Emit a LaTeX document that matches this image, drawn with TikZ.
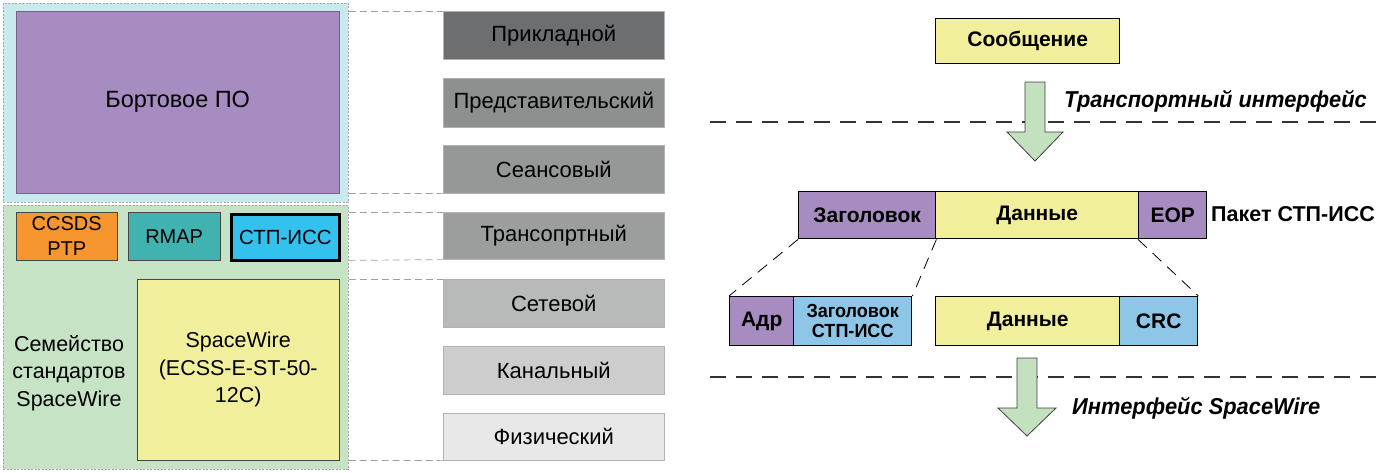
\documentclass[tikz,border=0pt]{standalone}
\usepackage{fontspec}
\setmainfont{Liberation Sans}
\newfontfamily\nrw[FakeStretch=0.95]{Liberation Sans}
\pgfdeclarelayer{bg}
\pgfsetlayers{bg,main}
\definecolor{cyanbg}{HTML}{C8EAEE}
\definecolor{greenbg}{HTML}{C6E3C6}
\definecolor{purp}{HTML}{A78CC1}
\definecolor{orng}{HTML}{F7962F}
\definecolor{teal2}{HTML}{40B2B0}
\definecolor{blu}{HTML}{33C1EE}
\definecolor{yel}{HTML}{F2EF9C}
\definecolor{lblu}{HTML}{8EC6E8}
\definecolor{garrow}{HTML}{C3E0BF}
\definecolor{g1}{HTML}{6D6E70}
\definecolor{g2}{HTML}{8E908F}
\definecolor{g3}{HTML}{969897}
\definecolor{g4}{HTML}{9C9E9D}
\definecolor{g5}{HTML}{B8BAB9}
\definecolor{g6}{HTML}{CCCDCC}
\definecolor{g7}{HTML}{E8E8E8}
\tikzset{
  rb/.style={rectangle, anchor=north west, inner sep=0pt, align=center, font=\fontsize{21.5}{27.5}\selectfont},
  panel/.style={rb, draw=gray!70, dash pattern=on 2pt off 1.5pt, line width=0.6pt},
  lbox/.style={rb, draw=gray!55!black, line width=0.4pt},
  layer/.style={rb, draw=gray!60, line width=0.6pt, minimum width=221pt, font=\fontsize{22}{26}\selectfont},
  pbox/.style={rb, draw=black, line width=1.4pt, font=\bfseries\fontsize{21}{24}\selectfont},
  guide/.style={draw=gray!75, dash pattern=on 7pt off 4pt, line width=0.7pt},
  bigdash/.style={draw=gray!40!black, dash pattern=on 16pt off 10pt, line width=1.6pt},
  vdash/.style={draw=black, dash pattern=on 8pt off 5pt, line width=0.7pt},
  ddash/.style={draw=black, dash pattern=on 12pt off 8pt, line width=0.8pt},
  garr/.style={fill=garrow, draw=gray!50!black, line width=0.8pt},
  ilabel/.style={anchor=west, inner sep=0pt, font=\nrw\bfseries\itshape\fontsize{23}{26}\selectfont}
}
\begin{document}
\begin{tikzpicture}[x=1pt,y=-1pt]
\useasboundingbox[fill=white] (0,0) rectangle (1390,472);
% left panel
\node[panel, fill=cyanbg, minimum width=345pt, minimum height=199pt] (cyanp) at (3,3) {};
\node[panel, fill=greenbg, minimum width=345pt, minimum height=264pt] (greenp) at (3,205) {};
\node[lbox, fill=purp, draw=purp!70!black, minimum width=323pt, minimum height=182pt, font=\fontsize{23.5}{28}\selectfont] (bort) at (16,11) {Бортовое ПО};
\node[lbox, fill=orng, minimum width=101pt, minimum height=48pt, font=\fontsize{20}{25}\selectfont] (ccsds) at (16,212) {CCSDS\\PTP};
\node[lbox, fill=teal2, minimum width=92pt, minimum height=48pt, font=\fontsize{20}{25}\selectfont] (rmap) at (128,212) {RMAP};
\node[rb, fill=blu, draw=black, line width=3pt, minimum width=108pt, minimum height=46pt, font=\fontsize{20.5}{25}\selectfont] (stp) at (230,213) {СТП-ИСС};
\node[lbox, fill=yel, minimum width=202pt, minimum height=181pt] (spw) at (137,279) {SpaceWire\\(ECSS-E-ST-50-\\12C)};
\node[align=center, inner sep=0pt, font=\fontsize{21.5}{27.5}\selectfont] (fam) at (69,373) {Семейство\\стандартов\\SpaceWire};
% layers
\node[layer, fill=g1, minimum height=48pt] (app) at (443,11) {Прикладной};
\node[layer, fill=g2, minimum height=49pt] (pres) at (443,78) {Представительский};
\node[layer, fill=g3, minimum height=48pt] (sess) at (443,145) {Сеансовый};
\node[layer, fill=g4, minimum height=47pt] (trans) at (443,212) {Трансопртный};
\node[layer, fill=g5, minimum height=48pt] (net) at (443,279) {Сетевой};
\node[layer, fill=g6, minimum height=48pt] (chan) at (443,346) {Канальный};
\node[layer, fill=g7, minimum height=47pt] (phys) at (443,413) {Физический};
% guides
\draw[guide] (cyanp.east |- bort.north) -- (app.north west);
\draw[guide] (cyanp.east |- bort.south) -- (sess.south west);
\draw[guide] (greenp.east |- ccsds.north) -- (trans.north west);
\draw[guide] (greenp.east |- ccsds.south) -- (trans.south west);
\draw[guide] (greenp.east |- spw.north) -- (net.north west);
\draw[guide] (greenp.east |- spw.south) -- (phys.south west);
% right part
\node[pbox, fill=yel, minimum width=184pt, minimum height=45pt] (msg) at (935,18) {Сообщение};
\node[pbox, fill=purp, minimum width=137pt, minimum height=47pt] (hdr) at (798,191) {Заголовок};
\node[pbox, fill=yel, minimum width=203pt, minimum height=47pt] (data) at (935,191) {Данные};
\node[pbox, fill=purp, minimum width=68pt, minimum height=47pt] (eop) at (1138,191) {EOP};
\node[anchor=west, inner sep=0pt, font=\bfseries\fontsize{21.5}{24}\selectfont] (pkt) at (1211,214) {Пакет СТП-ИСС};
\node[pbox, fill=purp, minimum width=64pt, minimum height=49pt] (adr) at (729,296) {Адр};
\node[pbox, fill=lblu, minimum width=118pt, minimum height=49pt, font=\nrw\bfseries\fontsize{19}{20}\selectfont] (sub) at (793,296) {Заголовок\\СТП-ИСС};
\node[pbox, fill=yel, minimum width=184pt, minimum height=49pt] (data2) at (935,296) {Данные};
\node[pbox, fill=lblu, minimum width=78pt, minimum height=49pt] (crc) at (1119,296) {CRC};
\begin{pgfonlayer}{bg}
\draw[vdash] (msg.south west) -- (data2.north west);
\draw[vdash] (msg.south east) -- (data2.north east);
\end{pgfonlayer}
\draw[ddash] (hdr.south west) -- (adr.north west);
\draw[ddash] (hdr.south east) -- (sub.north east);
\draw[ddash] (eop.south west) -- (crc.north east);
\coordinate (d1a) at (710,122);
\coordinate (d1b) at (1380,122);
\coordinate (d2a) at (710,377);
\coordinate (d2b) at (1380,377);
\draw[bigdash] (d1a) -- (d1b);
\draw[bigdash] (d2a) -- (d2b);
\draw[garr] (1025,82) -- (1045,82) -- (1045,132) -- (1063,132) -- (1035,161) -- (1007,132) -- (1025,132) -- cycle;
\draw[garr] (1017,358) -- (1037,358) -- (1037,408) -- (1056,408) -- (1027,436) -- (998,408) -- (1017,408) -- cycle;
\node[ilabel] (tif) at (1064,101) {Транспортный интерфейс};
\node[ilabel] (sif) at (1072,408) {Интерфейс SpaceWire};
\end{tikzpicture}
\end{document}
